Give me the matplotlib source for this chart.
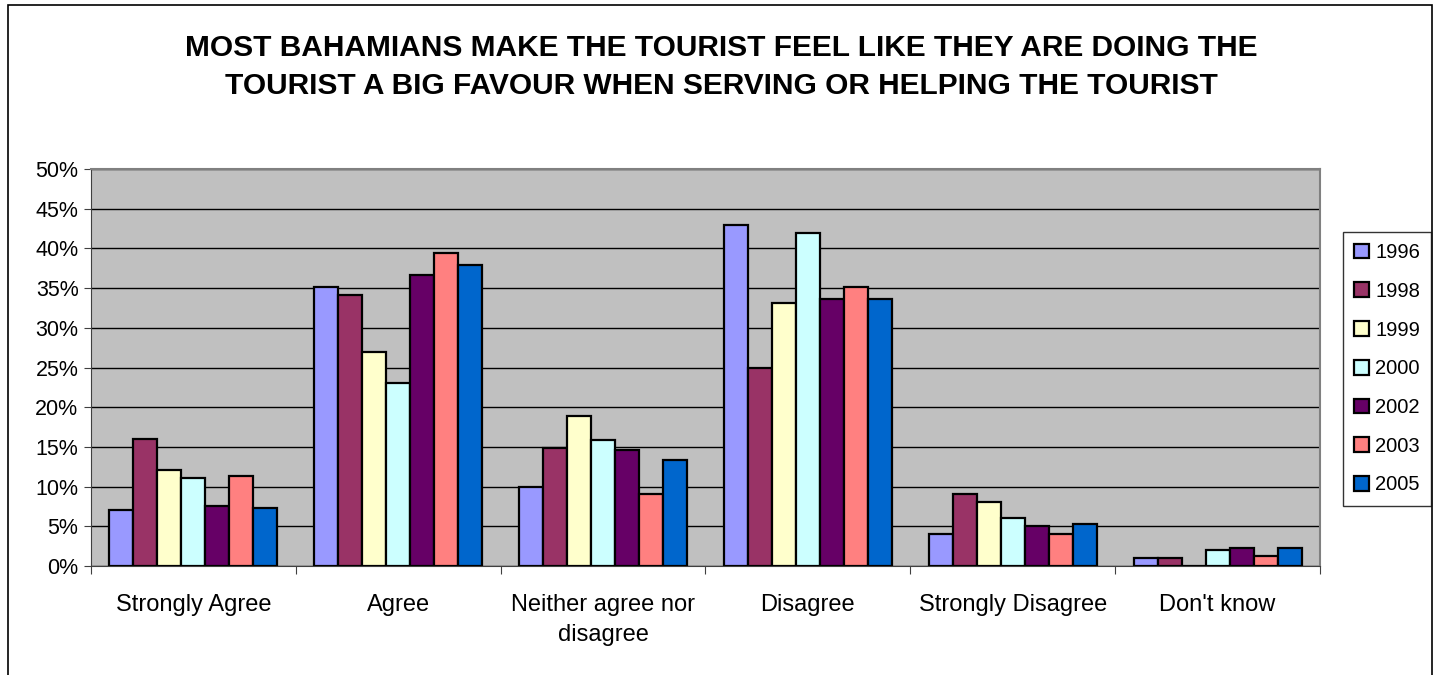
import numpy as np
import matplotlib.pyplot as plt
from matplotlib.patches import Rectangle

plt.rcParams['font.family'] = ['Liberation Sans', 'DejaVu Sans']

categories = ['Strongly Agree', 'Agree', 'Neither agree nor\ndisagree',
              'Disagree', 'Strongly Disagree', "Don't know"]
years = ['1996', '1998', '1999', '2000', '2002', '2003', '2005']

# percent per year, one value per category
v1996 = [7.0, 35.1, 10.0, 42.9, 4.0, 1.0]
v1998 = [16.0, 34.1, 14.9, 25.0, 9.1, 1.0]
v1999 = [12.1, 27.0, 18.9, 33.1, 8.1, 0.0]
v2000 = [11.1, 23.0, 15.9, 42.0, 6.1, 2.0]
v2002 = [7.5, 36.6, 14.6, 33.6, 5.0, 2.3]
v2003 = [11.3, 39.4, 9.1, 35.1, 4.0, 1.3]
v2005 = [7.3, 37.9, 13.4, 33.6, 5.3, 2.3]

series = [v1996, v1998, v1999, v2000, v2002, v2003, v2005]
colors = ['#9999FF', '#993366', '#FFFFCC', '#CCFFFF', '#660066', '#FF8080', '#0066CC']

fig = plt.figure(figsize=(14.42, 6.75), dpi=100)
ax = fig.add_axes([91 / 1442, 1 - 566 / 675, 1229 / 1442, 397 / 675])
ax.set_facecolor('#C0C0C0')

n = len(series)
w = 0.82 / n
x = np.arange(len(categories))
for i, (vals, c) in enumerate(zip(series, colors)):
    ax.bar(x - 0.41 + w * (i + 0.5), vals, width=w, color=c,
           edgecolor='black', linewidth=1.6, label=years[i], zorder=3)

ax.set_xlim(-0.5, len(categories) - 0.5)
ax.set_ylim(0, 50)
ax.set_yticks(np.arange(0, 51, 5))
ax.set_yticklabels([f'{t}%' for t in range(0, 51, 5)], fontsize=15.5)
ax.yaxis.grid(True, color='black', linewidth=1.0, zorder=1)
ax.set_axisbelow(True)

ax.set_xticks(np.arange(-0.5, len(categories), 1.0))
ax.set_xticklabels([])
ax.tick_params(axis='x', length=6, direction='out', color='#404040')
ax.tick_params(axis='y', length=5, direction='out', color='#404040', pad=4)
for xi, lab in zip(x, categories):
    ax.text(xi, -3.5, lab, ha='center', va='top', fontsize=17,
            linespacing=1.5, transform=ax.transData)

for side in ['top', 'right']:
    ax.spines[side].set_color('#808080')
    ax.spines[side].set_linewidth(1.5)
ax.spines['left'].set_color('#404040')
ax.spines['bottom'].set_color('#404040')

fig.text(0.5, 1 - 48 / 675, 'MOST BAHAMIANS MAKE THE TOURIST FEEL LIKE THEY ARE DOING THE',
         ha='center', va='center', fontsize=21.5, fontweight='bold')
fig.text(0.5, 1 - 86 / 675, 'TOURIST A BIG FAVOUR WHEN SERVING OR HELPING THE TOURIST',
         ha='center', va='center', fontsize=21.5, fontweight='bold')

leg = fig.legend(loc='upper left', bbox_to_anchor=(1343 / 1442, 1 - 232 / 675),
                 fontsize=14.5, frameon=True, fancybox=False, edgecolor='black',
                 handlelength=0.75, handleheight=0.75, handletextpad=0.3,
                 labelspacing=0.98, borderpad=0.55, borderaxespad=0)
leg.get_frame().set_linewidth(1.0)

# outer chart border
fig.add_artist(Rectangle((8 / 1442, -0.01), 1424 / 1442, 1 - 5 / 675 + 0.01,
                         transform=fig.transFigure, fill=False,
                         edgecolor='black', linewidth=1.2))

fig.savefig('out.png', dpi=100)
